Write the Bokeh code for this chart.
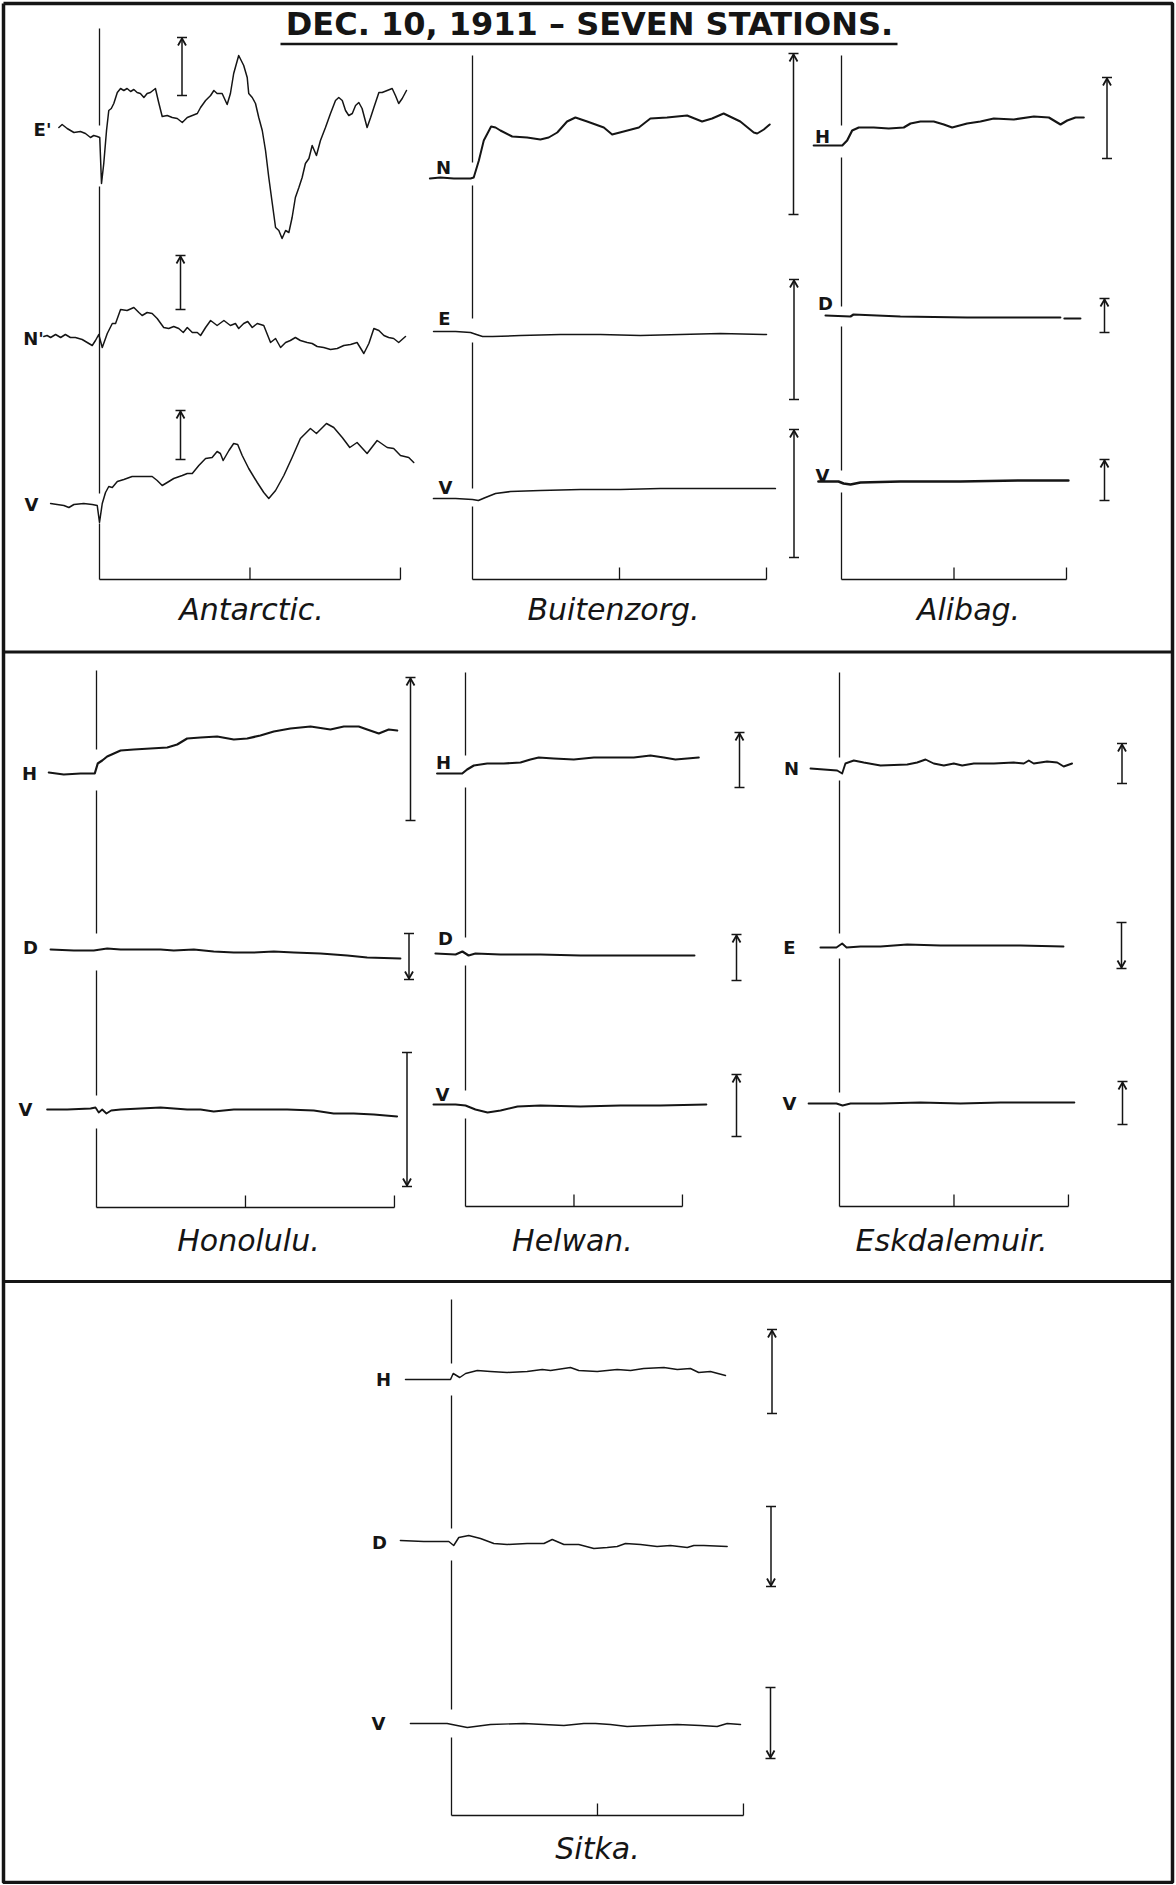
from bokeh.plotting import figure
from bokeh.models import Range1d
from bokeh.embed import file_html
from bokeh.resources import INLINE
from bokeh.core.properties import value

NAN = float("nan")

# ------------------------------------------------------------------
# DATA  (time t in minutes after the sudden commencement, deflection v
#        in scale units, positive upward; read off the reference)
# ------------------------------------------------------------------
TITLE = "DEC. 10, 1911 \u2013 SEVEN STATIONS."
AXIS_TICKS = [0, 60, 120]

# Antarctic
ant_E_t = [-16.2,-14.9,-12.9,-10.2,-7.6,-5.6,-3.6,-2.3,-0.9,0.1,
           0.8,1.7,2.8,3.7,4.7,5.7,7.1,8.4,9.7,11.0,
           12.4,13.7,15.0,16.3,17.7,19.0,20.3,22.3,23.6,25.0,
           27.0,29.0,31.0,33.0,35.0,37.0,39.0,40.3,42.3,44.3,
           45.6,46.9,48.9,50.9,52.2,53.5,55.5,57.5,58.9,59.5,
           60.9,62.2,63.5,64.9,66.2,67.5,68.9,70.2,71.5,72.8,
           74.2,75.5,76.8,78.1,79.5,80.8,82.1,83.5,84.8,86.5,
           88.1,90.1,92.1,94.1,95.4,96.8,98.1,99.4,100.8,102.1,
           103.4,104.7,106.7,108.1,109.4,111.4,112.7,114.7,116.7,118.0,
           119.3,120.7,122.4]
ant_E_v = [3,6,2,-2,-1,-3,-7,-5,-6,-7,
           -53,-33,0,20,22,27,38,42,40,42,
           39,41,38,37,33,37,38,42,28,14,
           15,13,12,8,13,15,17,23,30,35,
           40,37,37,26,37,57,75,65,53,37,
           33,27,13,0,-20,-47,-73,-97,-100,-108,
           -100,-102,-87,-67,-57,-47,-33,-28,-15,-25,
           -10,3,17,30,33,30,20,15,17,25,
           28,22,3,13,23,38,38,40,42,35,
           27,32,40]
ant_N_t = [-22.2,-20.9,-19.5,-17.5,-15.5,-13.6,-11.6,-9.6,-6.9,-4.9,
           -2.9,-1.6,-0.3,1.1,3.1,5.1,6.4,8.4,11.0,13.7,
           15.7,17.0,19.0,21.0,23.0,25.6,27.6,29.6,31.6,33.4,
           35.0,37.0,39.0,40.3,42.3,44.3,46.9,49.6,52.2,54.2,
           55.5,57.5,59.1,60.9,62.9,65.5,68.2,70.2,72.2,74.2,
           76.1,78.1,80.1,82.8,84.8,86.8,89.4,92.1,94.8,97.4,
           100.1,102.7,105.4,107.4,109.4,111.4,113.4,115.3,117.3,119.3,
           122.0]
ant_N_v = [1,2,0,3,0,3,0,0,-2,-5,
           -8,-3,3,-10,4,14,14,28,27,30,
           25,22,25,24,19,10,9,11,9,5,
           10,5,5,2,10,17,12,17,12,14,
           9,14,16,10,14,12,-5,-1,-10,-5,
           -3,0,-3,-5,-6,-9,-10,-12,-11,-8,
           -7,-5,-16,-6,9,7,2,0,-1,-5,
           1]
ant_V_t = [-19.5,-16.9,-14.2,-12.2,-10.2,-6.3,-2.9,-0.9,0.0,1.1,
           2.4,3.7,5.1,7.1,9.7,13.0,16.3,21.0,23.0,25.0,
           27.0,29.6,33.0,35.0,37.0,39.6,42.3,44.9,46.9,48.2,
           49.3,51.6,53.5,55.1,56.9,59.5,62.9,65.5,67.5,70.2,
           73.5,76.8,80.1,84.1,86.5,90.5,93.4,96.8,99.8,102.7,
           106.7,110.7,114.7,117.3,120.0,123.3,125.3]
ant_V_v = [1,0,-1,-3,0,1,0,-1,-18,1,
           12,18,17,23,25,28,28,28,24,19,
           22,26,29,31,31,39,46,47,53,51,
           44,54,61,60,49,36,22,12,6,14,
           29,47,66,76,71,81,77,67,57,62,
           51,64,57,56,49,47,42]
ant_E_bar, ant_N_bar, ant_V_bar = [35, 93], [28, 82], [45, 94]

# Buitenzorg
bz_N_t = [-17.4,-13.1,-7.6,-0.8,0.5,2.6,4.6,7.6,9.4,11.4,16.2,22.3,27.7,31.1,34.6,
          38.6,42.0,46.8,53.6,57.0,61.7,67.9,72.6,79.4,87.6,93.7,97.8,102.5,109.3,
          114.8,116.2,118.9,121.3]
bz_N_v = [0,1,0,0,1,18,38,52,51,48,42,41,39,41,46,57,61,57,51,44,47,51,60,61,63,
          57,60,65,57,46,45,49,54]
bz_E_t = [-15.9,-6.9,-0.8,1.6,4.1,8.2,19.6,35.9,52.2,68.5,84.9,101.2,120.0]
bz_E_v = [1,1,0,-2,-4,-4,-3,-2,-2,-3,-2,-1,-2]
bz_V_t = [-15.9,-6.9,0,2.4,5.3,9.4,15.5,27.7,44.1,60.4,76.7,93.0,109.3,123.6]
bz_V_v = [0,0,-1,-2,1,5,7,8,9,9,10,10,10,10]
bz_N_bar, bz_E_bar, bz_V_bar = [-36, 125], [-67, 53], [-59, 69]

# Alibag
ali_H_t = [-14.8,-7.6,0.4,3.0,5.7,9.2,17.2,25.2,33.2,36.8,42.1,49.2,54.6,59.0,67.0,
           74.1,81.2,91.9,102.6,110.6,116.8,120.4,124.8,129.2]
ali_H_v = [0,0,0,5,15,18,18,17,18,22,24,24,21,18,22,24,27,26,29,28,21,25,28,28]
ali_D_t = [-8.5,4.8,6.4,31.4,67.0,102.3,116.7,NAN,118.9,127.4]
ali_D_v = [1,0,2,0,-1,-1,-1,NAN,-2,-2]
ali_V_t = [-12.3,-1.6,1.1,4.8,10.1,31.4,63.4,95.4,121.0]
ali_V_v = [0,0,-2,-3,-1,0,0,1,1]
ali_H_bar, ali_D_bar, ali_V_bar = [-13, 68], [-16, 18], [-19, 22]

# Honolulu
hon_H_t = [-19.2,-13.2,-6.4,-0.7,0.5,2.3,4.3,7.0,9.7,15.0,21.7,28.5,32.5,36.5,41.9,
           48.6,55.3,60.7,66.0,71.4,78.1,86.2,94.2,99.6,105.6,109.0,113.7,117.7,121.1]
hon_H_v = [1,-1,0,0,10,13,17,20,23,24,25,26,29,35,36,37,34,35,38,42,45,47,44,47,47,
           44,40,44,43]
hon_D_t = [-18.5,-9.1,-1.1,4.3,9.7,17.7,25.8,31.1,39.2,47.2,55.3,63.3,71.4,79.5,90.2,
           101.0,109.0,122.4]
hon_D_v = [1,0,0,2,1,1,1,0,1,-1,-2,-2,-1,-2,-3,-5,-7,-8]
hon_V_t = [-19.9,-11.8,-2.4,-0.4,0.9,2.3,4.0,5.9,9.7,17.7,25.8,36.5,41.9,47.2,55.3,
           66.0,76.8,87.5,95.5,103.6,111.7,121.1]
hon_V_v = [0,0,1,2,-3,0,-4,-1,0,1,2,0,0,-2,0,0,0,-1,-4,-4,-5,-7]
hon_H_bar, hon_D_bar, hon_V_bar = [-47, 96], [-29, 17], [-77, 57]

# Helwan
hel_H_t = [-15.7,-8.3,-1.8,0.9,4.6,12.0,21.2,30.4,35.9,40.5,48.8,59.9,71.0,82.0,93.1,
           102.3,109.7,116.1,122.6,129.0]
hel_H_v = [0,0,0,4,8,10,10,11,14,16,15,14,16,16,16,18,16,14,15,16]
hel_D_t = [-16.6,-5.5,-1.7,1.7,5.5,19.4,41.5,63.6,85.7,107.8,126.6]
hel_D_v = [1,0,3,-1,1,0,0,-1,-1,-1,-1]
hel_V_t = [-17.7,-5.5,0,5.5,12.2,19.4,28.8,41.5,63.6,85.7,107.8,133.2]
hel_V_v = [0,0,-1,-5,-8,-6,-2,-1,-2,-1,-1,0]
hel_H_bar, hel_D_bar, hel_V_bar = [-14, 41], [-26, 20], [-32, 30]

# Eskdalemuir
esk_N_t = [-15.2,-8.2,-1.2,1.4,3.1,7.5,12.7,21.5,35.5,40.7,45.1,49.4,54.7,59.9,64.3,
           70.4,80.9,91.3,96.6,99.2,101.8,108.8,114.1,117.5,121.9]
esk_N_v = [1,0,-1,-4,6,9,7,4,5,7,10,6,4,6,4,6,6,7,6,9,6,8,7,3,6]
esk_E_t = [-10.0,-1.6,1.4,3.7,11.0,21.5,35.5,52.9,73.9,94.8,117.4]
esk_E_v = [0,0,4,0,1,1,3,2,2,2,1]
esk_V_t = [-16.2,-1.6,1.6,5.8,21.5,42.4,63.4,84.4,105.3,123.1]
esk_V_v = [0,0,-2,0,0,1,0,1,1,1]
esk_N_bar, esk_E_bar, esk_V_bar = [-14, 26], [-21, 25], [-21, 22]

# Sitka
sit_H_t = [-18.9,-11.5,-0.4,0.7,3.4,5.8,10.6,16.0,22.9,31.1,37.3,40.7,48.9,52.3,59.9,
           68.1,73.6,79.0,87.3,92.8,98.2,101.6,106.4,112.6]
sit_H_v = [0,0,0,6,2,6,9,8,7,8,10,9,12,9,8,10,9,11,12,10,11,7,8,4]
sit_D_t = [-21.0,-11.4,-1.1,0.9,3.0,7.1,11.9,17.4,22.9,31.1,38.0,41.4,46.2,52.3,58.5,
           64.0,68.1,71.5,77.7,84.5,90.0,96.9,99.6,103.7,113.3]
sit_D_v = [1,0,0,-4,4,6,3,-2,-3,-2,-2,2,-3,-3,-7,-6,-5,-2,-3,-5,-4,-6,-4,-4,-5]
sit_V_t = [-16.9,-1.8,2.3,6.5,16.0,29.7,37.9,46.2,54.4,59.2,65.3,72.2,81.8,92.8,102.3,
           109.2,113.3,118.8]
sit_V_v = [0,0,-2,-4,-1,0,-1,-2,0,0,-1,-3,-2,-1,-2,-3,0,-1]
sit_H_bar, sit_D_bar, sit_V_bar = [-34, 50], [-45, 35], [-35, 36]

# ------------------------------------------------------------------
# LAYOUT (page pixels)
# ------------------------------------------------------------------
INK = "#151515"
W, H = 1175, 1884
OX, OY = 0, 0

def tr(lab, t, v, base, lpos, lw, bar_x, bar, arrow):
    return dict(lab=lab, t=t, v=v, base=base, lpos=lpos, lw=lw,
                bar_x=bar_x, bar=bar, arrow=arrow)

STATIONS = [
    dict(key="ant", name="Antarctic.", x0=99, k=2.508, axis_y=579, label=(251, 609),
         sc=[(28, 125), (186, 493), (523, 579)],
         traces=[tr("E'", ant_E_t, ant_E_v, 130, (42, 129), 1.5, 181.5, ant_E_bar, "up"),
                 tr("N'", ant_N_t, ant_N_v, 337, (33, 338), 1.5, 180, ant_N_bar, "up"),
                 tr("V", ant_V_t, ant_V_v, 504, (31, 504), 1.5, 180, ant_V_bar, "up")]),
    dict(key="bz", name="Buitenzorg.", x0=472, k=2.45, axis_y=579, label=(613, 609),
         sc=[(55, 162), (185, 318), (342, 488), (506, 579)],
         traces=[tr("N", bz_N_t, bz_N_v, 178, (443, 167), 2.0, 793, bz_N_bar, "up"),
                 tr("E", bz_E_t, bz_E_v, 332, (444, 318), 1.5, 793.5, bz_E_bar, "up"),
                 tr("V", bz_V_t, bz_V_v, 498, (445, 487), 1.7, 793.5, bz_V_bar, "up")]),
    dict(key="ali", name="Alibag.", x0=841, k=1.875, axis_y=579, label=(968, 609),
         sc=[(55, 125), (157, 306), (326, 470), (492, 579)],
         traces=[tr("H", ali_H_t, ali_H_v, 145, (822, 136), 2.2, 1106.5, ali_H_bar, "up"),
                 tr("D", ali_D_t, ali_D_v, 316, (825, 303), 2.2, 1104, ali_D_bar, "up"),
                 tr("V", ali_V_t, ali_V_v, 481, (822, 475), 2.6, 1104, ali_V_bar, "up")]),
    dict(key="hon", name="Honolulu.", x0=96, k=2.483, axis_y=1207, label=(248, 1240),
         sc=[(670, 749), (790, 933), (970, 1095), (1128, 1207)],
         traces=[tr("H", hon_H_t, hon_H_v, 773, (29, 773), 2.2, 410, hon_H_bar, "up"),
                 tr("D", hon_D_t, hon_D_v, 950, (30, 947), 2.0, 408.5, hon_D_bar, "down"),
                 tr("V", hon_V_t, hon_V_v, 1109, (25, 1109), 1.8, 406.5, hon_V_bar, "down")]),
    dict(key="hel", name="Helwan.", x0=465, k=1.808, axis_y=1206, label=(572, 1240),
         sc=[(672, 755), (787, 937), (965, 1090), (1118, 1206)],
         traces=[tr("H", hel_H_t, hel_H_v, 773, (443, 762), 2.2, 739, hel_H_bar, "up"),
                 tr("D", hel_D_t, hel_D_v, 954, (445, 938), 2.2, 736, hel_D_bar, "up"),
                 tr("V", hel_V_t, hel_V_v, 1104, (442, 1094), 2.0, 736, hel_V_bar, "up")]),
    dict(key="esk", name="Eskdalemuir.", x0=839, k=1.908, axis_y=1206, label=(951, 1240),
         sc=[(672, 757), (780, 933), (958, 1092), (1112, 1206)],
         traces=[tr("N", esk_N_t, esk_N_v, 769, (791, 768), 1.9, 1121.5, esk_N_bar, "up"),
                 tr("E", esk_E_t, esk_E_v, 947, (789, 947), 1.9, 1121, esk_E_bar, "down"),
                 tr("V", esk_V_t, esk_V_v, 1103, (789, 1103), 1.9, 1122, esk_V_bar, "up")]),
    dict(key="sit", name="Sitka.", x0=451, k=2.433, axis_y=1815, label=(597, 1848),
         sc=[(1299, 1363), (1395, 1528), (1560, 1709), (1737, 1815)],
         traces=[tr("H", sit_H_t, sit_H_v, 1379, (383, 1379), 1.5, 771.5, sit_H_bar, "up"),
                 tr("D", sit_D_t, sit_D_v, 1541, (379, 1542), 1.5, 770.5, sit_D_bar, "down"),
                 tr("V", sit_V_t, sit_V_v, 1723, (378, 1723), 1.4, 770, sit_V_bar, "down")]),
]

p = figure(width=W, height=H, x_range=Range1d(OX, OX + W), y_range=Range1d(OY + H, OY),
           x_axis_location=None, y_axis_location=None, output_backend="svg",
           toolbar_location=None, min_border=0, background_fill_color="white",
           border_fill_color="white", outline_line_color=None)
p.grid.grid_line_color = None

# outer frame and band separators
p.line([3, 1172, 1172, 3, 3], [3, 3, 1882, 1882, 3], line_color=INK, line_width=3.5)
p.segment(x0=[3, 3], y0=[651.5, 1281], x1=[1172, 1172], y1=[651.5, 1281],
          line_color=INK, line_width=3)

# title
p.text(x=[589], y=[23], text=[TITLE], text_font=value("DejaVu Sans"),
       text_font_style="bold", text_font_size="32px", text_align="center",
       text_baseline="middle", text_color=INK)
p.segment(x0=[280], y0=[43.5], x1=[897], y1=[43.5], line_color=INK, line_width=2.5)

for st in STATIONS:
    xr = "t_" + st["key"]
    x0, k = st["x0"], st["k"]
    p.extra_x_ranges[xr] = Range1d((OX - x0) / k, (OX + W - x0) / k)
    # commencement line
    for a, b in st["sc"]:
        p.segment(x0=[AXIS_TICKS[0]], y0=[a], x1=[AXIS_TICKS[0]], y1=[b],
                  x_range_name=xr, line_color=INK, line_width=1.3)
    # time axis bracket
    ay = st["axis_y"]
    p.segment(x0=[AXIS_TICKS[0]], y0=[ay], x1=[AXIS_TICKS[-1]], y1=[ay],
              x_range_name=xr, line_color=INK, line_width=1.4)
    p.segment(x0=AXIS_TICKS[1:], y0=[ay - 12] * (len(AXIS_TICKS) - 1),
              x1=AXIS_TICKS[1:], y1=[ay] * (len(AXIS_TICKS) - 1),
              x_range_name=xr, line_color=INK, line_width=1.3)
    # station name
    p.text(x=[st["label"][0]], y=[st["label"][1]], text=[st["name"]],
           text_font=value("DejaVu Sans"), text_font_style="italic",
           text_font_size="30px", text_align="center", text_baseline="middle",
           text_color=INK)
    for i, c in enumerate(st["traces"]):
        yr = "v_%s_%d" % (st["key"], i)
        base = c["base"]
        p.extra_y_ranges[yr] = Range1d(base - (OY + H), base - OY)
        p.line(c["t"], c["v"], x_range_name=xr, y_range_name=yr, line_color=INK,
               line_width=c["lw"], line_join="round", line_cap="round")
        p.text(x=[c["lpos"][0]], y=[c["lpos"][1]], text=[c["lab"]],
               text_font=value("DejaVu Sans"), text_font_style="bold",
               text_font_size="18px", text_align="center", text_baseline="middle",
               text_color=INK)
        bx = c["bar_x"]
        lo, hi = c["bar"]
        p.segment(x0=[bx], y0=[lo], x1=[bx], y1=[hi], y_range_name=yr,
                  line_color=INK, line_width=1.5)
        p.segment(x0=[bx - 5, bx - 5], y0=[lo, hi], x1=[bx + 5, bx + 5], y1=[lo, hi],
                  y_range_name=yr, line_color=INK, line_width=1.5)
        if c["arrow"] == "up":
            tip, arm = hi - 1, hi - 8
        else:
            tip, arm = lo + 1, lo + 8
        p.multi_line(xs=[[bx - 4, bx, bx + 4]], ys=[[arm, tip, arm]], y_range_name=yr,
                     line_color=INK, line_width=1.8)

open("out.html", "w").write(file_html(p, INLINE))
